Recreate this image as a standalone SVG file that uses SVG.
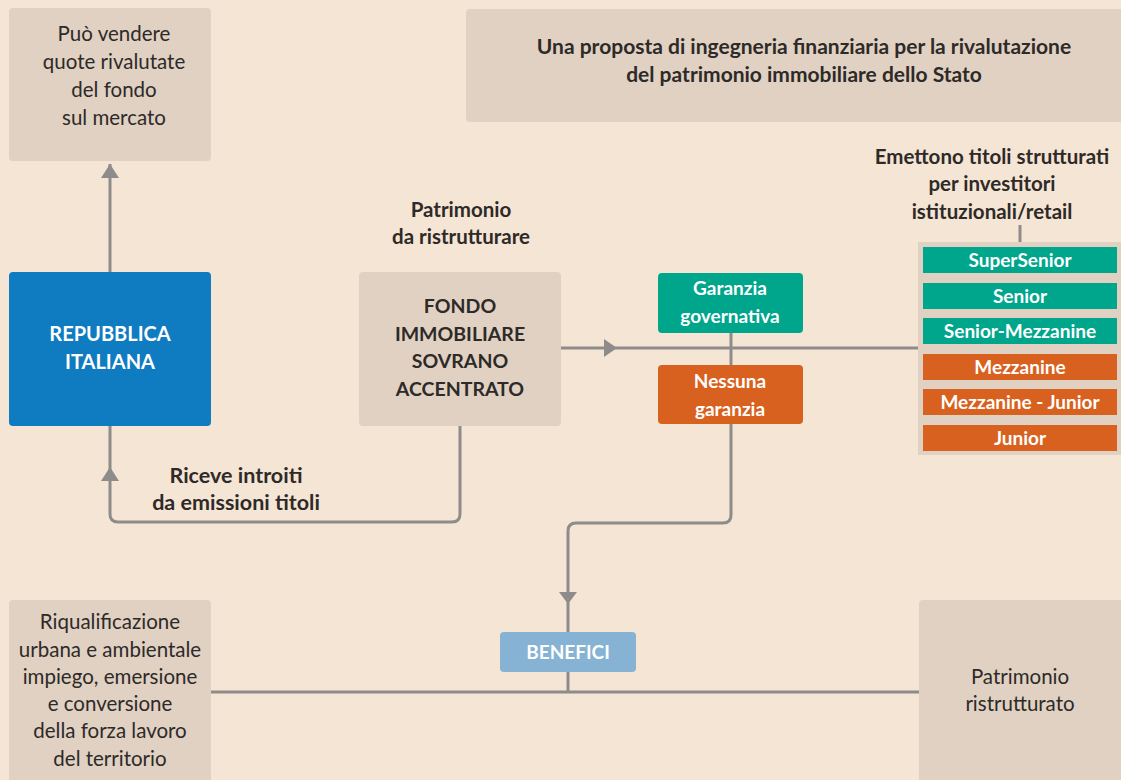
<svg xmlns="http://www.w3.org/2000/svg" width="1121" height="780" viewBox="0 0 1121 780">
<style>
.bg{fill:#f5e5d5}
.box{fill:#e0d1c3}
.t{font-family:Lato,"Open Sans","Liberation Sans",sans-serif;fill:#2e2a28;text-anchor:middle}
.b{font-weight:bold}
.w{fill:#ffffff;font-weight:bold}
.ln{stroke:#8e8c8a;stroke-width:3;fill:none;stroke-linejoin:round}
.ah{fill:#8e8c8a}
.teal{fill:#00a68c}
.orange{fill:#d9611f}
</style>
<rect class="bg" x="0" y="0" width="1121" height="780"/>

<g id="connectors">
  <path class="ln" d="M110 272 V164"/>
  <polygon class="ah" points="110,164 101,178 119,178"/>
  <path class="ln" d="M561 348 H920"/>
  <polygon class="ah" points="617,348 604,339 604,357"/>
  <path class="ln" d="M731 333 V365"/>
  <path class="ln" d="M731 424 V515 Q731 523 723 523 H576 Q568 523 568 531 V632"/>
  <polygon class="ah" points="568,604 559,592 577,592"/>
  <path class="ln" d="M460 426 V514 Q460 522 452 522 H118 Q110 522 110 514 V426"/>
  <polygon class="ah" points="110,467 101,481 119,481"/>
  <path class="ln" d="M1020 225 V243"/>
  <path class="ln" d="M211 692 H919"/>
  <path class="ln" d="M568 672 V692"/>
</g>

<g id="vendere">
  <rect class="box" x="9" y="8" width="202" height="153" rx="4"/>
  <text class="t" font-size="20.5" x="114" y="41">Può vendere</text>
  <text class="t" font-size="20.5" x="114" y="69">quote rivalutate</text>
  <text class="t" font-size="20.5" x="114" y="97">del fondo</text>
  <text class="t" font-size="20.5" x="114" y="125">sul mercato</text>
</g>

<g id="titolo">
  <rect class="box" x="466" y="9" width="660" height="113" rx="4"/>
  <text class="t b" font-size="21" x="804" y="54">Una proposta di ingegneria finanziaria per la rivalutazione</text>
  <text class="t b" font-size="21" x="804" y="82">del patrimonio immobiliare dello Stato</text>
</g>

<g id="repubblica">
  <rect x="9" y="272" width="202" height="154" rx="4" fill="#0f7bc0"/>
  <text class="t w" font-size="20" x="110" y="341">REPUBBLICA</text>
  <text class="t w" font-size="20" x="110" y="369">ITALIANA</text>
</g>

<g id="patrimonio-label">
  <text class="t b" font-size="20.5" x="461" y="217">Patrimonio</text>
  <text class="t b" font-size="20.5" x="461" y="244">da ristrutturare</text>
</g>

<g id="fondo">
  <rect class="box" x="359" y="272" width="202" height="154" rx="4"/>
  <text class="t b" font-size="19.5" x="460" y="313">FONDO</text>
  <text class="t b" font-size="19.5" x="460" y="341">IMMOBILIARE</text>
  <text class="t b" font-size="19.5" x="460" y="368">SOVRANO</text>
  <text class="t b" font-size="19.5" x="460" y="396">ACCENTRATO</text>
</g>

<g id="garanzia">
  <rect class="teal" x="658" y="273" width="145" height="60" rx="4"/>
  <text class="t w" font-size="19" x="730" y="295">Garanzia</text>
  <text class="t w" font-size="19" x="730" y="323">governativa</text>
</g>

<g id="nessuna">
  <rect class="orange" x="658" y="365" width="145" height="59" rx="4"/>
  <text class="t w" font-size="19" x="730" y="388">Nessuna</text>
  <text class="t w" font-size="19" x="730" y="416">garanzia</text>
</g>

<g id="emettono">
  <text class="t b" font-size="20.5" x="992" y="164">Emettono titoli strutturati</text>
  <text class="t b" font-size="20.5" x="992" y="191">per investitori</text>
  <text class="t b" font-size="20.5" x="992" y="219">istituzionali/retail</text>
</g>

<g id="tranche">
  <rect class="box" x="918" y="242" width="203" height="213"/>
  <rect class="teal" x="923" y="247" width="194" height="26"/>
  <text class="t w" font-size="19" x="1020" y="266.5">SuperSenior</text>
  <rect class="teal" x="923" y="283" width="194" height="26"/>
  <text class="t w" font-size="19" x="1020" y="302.5">Senior</text>
  <rect class="teal" x="923" y="318" width="194" height="26"/>
  <text class="t w" font-size="19" x="1020" y="337.5">Senior-Mezzanine</text>
  <rect class="orange" x="923" y="354" width="194" height="26"/>
  <text class="t w" font-size="19" x="1020" y="373.5">Mezzanine</text>
  <rect class="orange" x="923" y="389" width="194" height="26"/>
  <text class="t w" font-size="19" x="1020" y="408.5">Mezzanine - Junior</text>
  <rect class="orange" x="923" y="425" width="194" height="26"/>
  <text class="t w" font-size="19" x="1020" y="444.5">Junior</text>
</g>

<g id="riceve">
  <text class="t b" font-size="21.5" x="236" y="483">Riceve introiti</text>
  <text class="t b" font-size="21.5" x="236" y="510">da emissioni titoli</text>
</g>

<g id="riqualificazione">
  <rect class="box" x="9" y="600" width="202" height="185" rx="4"/>
  <text class="t" font-size="20.5" x="110" y="629">Riqualificazione</text>
  <text class="t" font-size="20.5" x="110" y="657">urbana e ambientale</text>
  <text class="t" font-size="20.5" x="110" y="684">impiego, emersione</text>
  <text class="t" font-size="20.5" x="110" y="711">e conversione</text>
  <text class="t" font-size="20.5" x="110" y="738">della forza lavoro</text>
  <text class="t" font-size="20.5" x="110" y="766">del territorio</text>
</g>

<g id="benefici">
  <rect x="500" y="632" width="136" height="40" rx="4" fill="#86b2d3"/>
  <text class="t w" font-size="19" x="568" y="659">BENEFICI</text>
</g>

<g id="ristrutturato">
  <rect class="box" x="919" y="600" width="207" height="185" rx="4"/>
  <text class="t" font-size="20.5" x="1020" y="684">Patrimonio</text>
  <text class="t" font-size="20.5" x="1020" y="711">ristrutturato</text>
</g>
</svg>
